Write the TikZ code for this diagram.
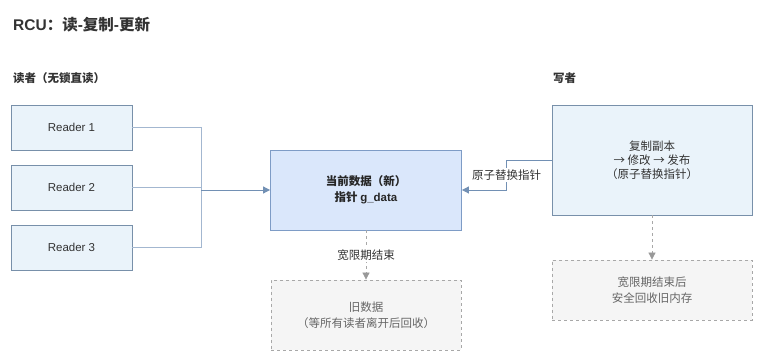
\documentclass[tikz,border=0pt]{standalone}
\usepackage{fontspec}
\setmainfont{Noto Sans CJK SC}
\newfontfamily\lat{Liberation Sans}
\usetikzlibrary{arrows.meta}
\definecolor{rdfill}{HTML}{EAF3FA}
\definecolor{rdline}{HTML}{7890AA}
\definecolor{curfill}{HTML}{DAE7FB}
\definecolor{curline}{HTML}{7E9CC6}
\definecolor{linkcol}{HTML}{7290B4}
\definecolor{rdlinkcol}{HTML}{A3B7D0}
\definecolor{oldfill}{HTML}{F5F5F5}
\definecolor{oldline}{HTML}{A8A8A8}
\definecolor{tipcol}{HTML}{999999}
\definecolor{txt}{HTML}{333333}
\definecolor{graytxt}{HTML}{666666}
\begin{document}
\begin{tikzpicture}[x=1pt,y=-1pt,
  box/.style={draw=rdline,fill=rdfill,line width=0.8pt,align=center,inner sep=0pt,
    text=txt,font=\fontsize{11.5}{14}\selectfont},
  curbox/.style={box,draw=curline,fill=curfill,font=\bfseries\fontsize{11.5}{16}\selectfont,text=black!85},
  oldbox/.style={box,draw=oldline,fill=oldfill,dashed,text=graytxt,font=\fontsize{11.5}{16}\selectfont},
  link/.style={draw=linkcol,line width=0.8pt,-{Triangle[length=7pt,width=7pt]}},
  rdlink/.style={draw=rdlinkcol,line width=0.8pt},
  gclink/.style={draw=oldline,line width=0.8pt,dashed,-{Triangle[length=7pt,width=7pt,color=tipcol]}},
  lbl/.style={fill=white,inner sep=1.5pt,text=txt,font=\fontsize{11.5}{13}\selectfont}]
  \useasboundingbox (0,0) rectangle (764,363);
  % headings
  \node[anchor=west,text=txt,font=\bfseries\fontsize{15.5}{18}\selectfont,inner sep=0pt] (title) at (13,25) {{\lat RCU}：读{\lat -}复制{\lat -}更新};
  \node[anchor=west,text=txt,font=\bfseries\fontsize{11.5}{13}\selectfont,inner sep=0pt] (rdhead) at (13,78) {读者（无锁直读）};
  \node[anchor=west,text=txt,font=\bfseries\fontsize{11.5}{13}\selectfont,inner sep=0pt] (wrhead) at (553,78) {写者};
  % readers
  \foreach \i/\y in {1/127.5,2/187.5,3/247.5}{
    \node[box,minimum width=121pt,minimum height=45pt,font=\lat\fontsize{11.5}{14}\selectfont] (r\i) at (71.5,\y) {Reader \i};
  }
  % current data and writer
  \node[curbox,minimum width=191pt,minimum height=80pt] (cur) at (366,190) {当前数据（新）\\指针 {\lat g\_data}};
  \node[box,minimum width=200pt,minimum height=110pt] (wr) at (652,160) {复制副本\\→ 修改 → 发布\\（原子替换指针）};
  % reclaim boxes
  \node[oldbox,minimum width=190pt,minimum height=70pt] (old) at (366,315) {旧数据\\（等所有读者离开后回收）};
  \node[oldbox,minimum width=200pt,minimum height=60pt] (free) at (652,290) {宽限期结束后\\安全回收旧内存};
  % connectors
  \coordinate (join) at (201,190);
  \draw[rdlink] (r1.east) -| (join) (r3.east) -| (join) (r2.east) -- (r2.east -| join);
  \draw[link] (join) -- (cur.west);
  \coordinate (bend) at (506.5,160);
  \draw[link] (wr.west) -- (bend) |- node[lbl,pos=0.25] {原子替换指针} (cur.east);
  \draw[gclink] (cur.south) -- node[lbl] {宽限期结束} (old.north);
  \draw[gclink] (wr.south) -- (free.north);
\end{tikzpicture}
\end{document}
